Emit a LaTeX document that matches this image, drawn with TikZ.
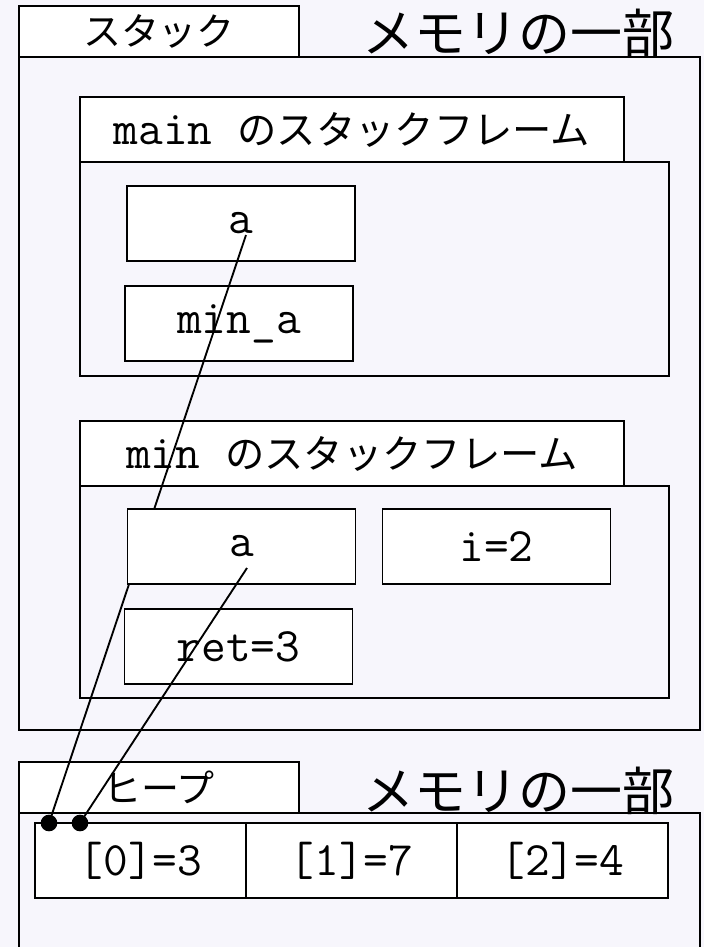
\documentclass[tikz,border=0pt]{standalone}
\usepackage{fontspec}
\setmainfont{Noto Sans CJK JP}
\definecolor{paper}{RGB}{247,246,252}

\begin{document}
\begin{tikzpicture}[x=0.75pt, y=-0.75pt, line width=1.1pt,
  tab/.style={draw, fill=white, minimum width=210pt, minimum height=38pt, inner sep=0pt, font=\fontsize{28.5}{34}\selectfont},
  title/.style={inner sep=0pt, font=\fontsize{39}{46}\selectfont},
  frametab/.style={draw, fill=white, minimum width=408pt, minimum height=48.75pt, inner sep=0pt, font=\fontsize{29.5}{36}\selectfont},
  frame/.style={draw, minimum width=441.75pt, inner sep=0pt},
  var/.style={draw, fill=white, minimum width=171pt, minimum height=56.25pt, inner sep=0pt, font=\ttfamily\fontsize{36}{40}\selectfont},
  cell/.style={var, minimum width=158.25pt},
  dot/.style={circle, fill=black, inner sep=0pt, minimum size=12.5pt},
  link/.style={line width=1.4pt}]

\useasboundingbox[fill=paper] (0,0) rectangle (704,947);

% stack
\node [tab] (stacktab) at (159,31.5) {スタック};
\node [title] (stackmem) at (518,33) {メモリの一部};
\node [draw, minimum width=510.75pt, minimum height=504.75pt] (stack) at (359.5,393.5) {};

% main frame
\node [frametab] (maintab) at (352,129.5) {{\ttfamily\fontsize{36}{40}\selectfont main\ }のスタックフレーム};
\node [frame, minimum height=160.5pt] (mainframe) at (374.5,269) {};
\node [var] (maina) at (241,223.5) {a};
\node [var] (mainmin) at (239,323.5) {min\_a};

% min frame
\node [frametab] (mintab) at (352,453.5) {{\ttfamily\fontsize{36}{40}\selectfont min\ }のスタックフレーム};
\node [frame, minimum height=159pt] (minframe) at (374.5,592) {};
\node [var] (mini) at (496.5,546.5) {i=2};
\node [var] (minret) at (238.5,646.5) {ret=3};

% heap
\node [tab] (heaptab) at (159,787.5) {ヒープ};
\node [title] (heapmem) at (518,791) {メモリの一部};
\draw (19,947) |- (700,813) -- (700,947);
\node [cell] (c0) at (140.5,860.5) {[0]=3};
\node [cell] (c1) at (351.5,860.5) {[1]=7};
\node [cell] (c2) at (562.5,860.5) {[2]=4};
\node [dot] (p0) at (49,823) {};
\node [dot] (p1) at (80,823) {};

% pointers
\coordinate (from1) at (246,235);
\coordinate (from2) at (247,568);
\draw [link] (from1) -- (p0.center);
\node [var] (mina) at (241.5,546.5) {a};
\draw [link] (from2) -- (p1.center);
\end{tikzpicture}
\end{document}
